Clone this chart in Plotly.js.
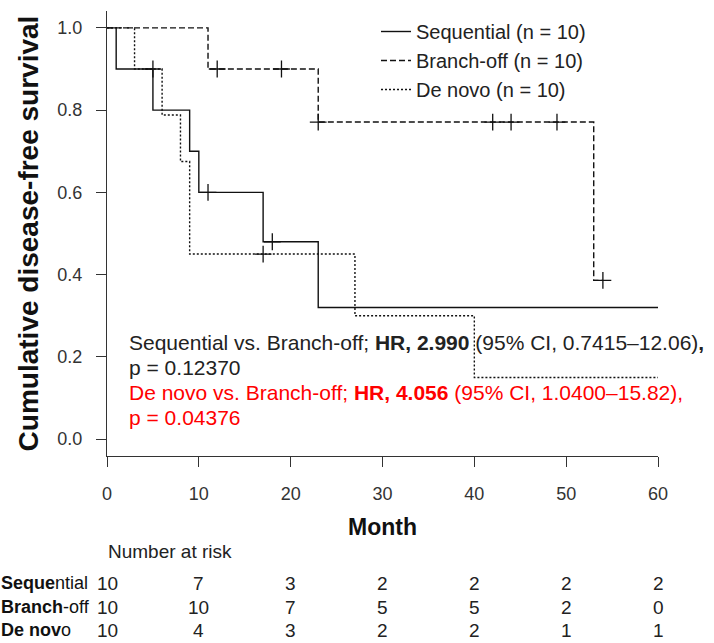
<!DOCTYPE html>
<html>
<head>
<meta charset="utf-8">
<script src="https://cdn.plot.ly/plotly-3.0.1.min.js"></script>
<style>html,body{margin:0;padding:0;background:#fff;}#chart{width:714px;height:643px;}</style>
</head>
<body>
<div id="chart"></div>
<script>
// ---- Kaplan-Meier step data ----
const seqTime = [0, 1, 5, 9, 10, 17, 23, 60];
const seqSurv = [1, 0.9, 0.8, 0.7, 0.6, 0.48, 0.32, 0.32];
const seqCensTime = [11, 18];
const seqCensSurv = [0.6, 0.48];

const boTime = [0, 11, 23, 53, 54];
const boSurv = [1, 0.9, 0.771, 0.386, 0.386];
const boCensTime = [12, 19, 23, 42, 44, 49, 54];
const boCensSurv = [0.9, 0.9, 0.771, 0.771, 0.771, 0.771, 0.386];

const dnTime = [0, 3, 6, 8, 9, 27, 40, 60];
const dnSurv = [1, 0.9, 0.788, 0.675, 0.45, 0.30, 0.15, 0.15];
const dnCensTime = [5, 17];
const dnCensSurv = [0.9, 0.45];

const seriesNames = ["Sequential (n = 10)", "Branch-off (n = 10)", "De novo (n = 10)"];

// ---- Number at risk table ----
const riskTimes = [0, 10, 20, 30, 40, 50, 60];
const riskLabels = ["<b>Seque</b>ntial", "<b>Branch</b>-off", "<b>De nov</b>o"];
const riskSeq = [10, 7, 3, 2, 2, 2, 2];
const riskBo = [10, 10, 7, 5, 5, 2, 0];
const riskDn = [10, 4, 3, 2, 2, 1, 1];

const xTicks = [0, 10, 20, 30, 40, 50, 60];
const yTicks = [0, 0.2, 0.4, 0.6, 0.8, 1.0];
const yTickText = ["0.0", "0.2", "0.4", "0.6", "0.8", "1.0"];

// ---- layout helpers (pixel -> paper) ----
const L = 107, R = 658, T = 11, B = 456;
const W = 714, H = 643;
const pxX = p => (p - L) / (R - L);
const pxY = p => (B - p) / (B - T);

const FONT = "Liberation Sans, Arial, sans-serif";
const lw = 1.4;
const censMarker = {symbol: "cross-thin-open", size: 12, color: "#111", line: {color: "#111", width: 1.3}};

const traces = [
  {x: seqTime, y: seqSurv, mode: "lines", line: {shape: "hv", color: "#111", width: lw}, name: seriesNames[0]},
  {x: boTime, y: boSurv, mode: "lines", line: {shape: "hv", color: "#111", width: lw, dash: "6px,3px"}, name: seriesNames[1]},
  {x: dnTime, y: dnSurv, mode: "lines", line: {shape: "hv", color: "#111", width: lw, dash: "2px,2px"}, name: seriesNames[2]},
  {x: seqCensTime, y: seqCensSurv, mode: "markers", showlegend: false, marker: censMarker},
  {x: boCensTime, y: boCensSurv, mode: "markers", showlegend: false, marker: censMarker},
  {x: dnCensTime, y: dnCensSurv, mode: "markers", showlegend: false, marker: censMarker}
];

const annotations = [];
const annFont = {family: FONT, size: 21, color: "#222"};
const redFont = {family: FONT, size: 21, color: "#ff0000"};
const hrLines = [
  {t: "Sequential vs. Branch-off; <b>HR, 2.990</b> (95% CI, 0.7415–12.06)<b>,</b>", py: 342, f: annFont},
  {t: "p = 0.12370", py: 367, f: annFont},
  {t: "De novo vs. Branch-off; <b>HR, 4.056</b> (95% CI, 1.0400–15.82),", py: 392, f: redFont},
  {t: "p = 0.04376", py: 417, f: redFont}
];
hrLines.forEach(l => annotations.push({
  text: l.t, xref: "paper", yref: "paper", x: pxX(127), y: pxY(l.py),
  xanchor: "left", yanchor: "middle", showarrow: false, font: l.f
}));

annotations.push({text: "Number at risk", xref: "paper", yref: "paper", x: pxX(106), y: pxY(551),
  xanchor: "left", yanchor: "middle", showarrow: false, font: {family: FONT, size: 19, color: "#222"}});

const riskRows = [riskSeq, riskBo, riskDn];
const rowY = [583, 607, 630];
riskRows.forEach((row, i) => {
  annotations.push({text: riskLabels[i], xref: "paper", yref: "paper", x: pxX(-1), y: pxY(rowY[i]),
    xanchor: "left", yanchor: "middle", showarrow: false, font: {family: FONT, size: 18, color: "#111"}});
  row.forEach((v, j) => annotations.push({
    text: String(v), xref: "x", yref: "paper", x: riskTimes[j], y: pxY(rowY[i]),
    xanchor: "center", yanchor: "middle", showarrow: false, font: {family: FONT, size: 19, color: "#222"}
  }));
});

const layout = {
  width: W, height: H,
  margin: {l: L, r: W - R, t: T, b: H - B, pad: 0},
  paper_bgcolor: "#fff", plot_bgcolor: "#fff",
  font: {family: FONT, color: "#222"},
  showlegend: true,
  legend: {x: pxX(376), y: pxY(12), xanchor: "left", yanchor: "top", bgcolor: "rgba(0,0,0,0)",
    font: {family: FONT, size: 20, color: "#222"}, itemwidth: 30, tracegroupgap: 0},
  xaxis: {
    range: [0, 60], tickvals: xTicks, ticktext: xTicks.map(String),
    showgrid: false, zeroline: false, showline: true, linecolor: "#333", linewidth: 1,
    ticks: "outside", ticklen: 10, tickcolor: "#333", tickwidth: 1,
    tickfont: {family: FONT, size: 18, color: "#333"}, ticklabelstandoff: 11,
    title: {text: "<b>Month</b>", font: {family: FONT, size: 23, color: "#111"}, standoff: 16},
    automargin: false, fixedrange: true
  },
  yaxis: {
    range: [-0.041, 1.041], tickvals: yTicks, ticktext: yTickText,
    showgrid: false, zeroline: false, showline: true, linecolor: "#333", linewidth: 1,
    ticks: "outside", ticklen: 10, tickcolor: "#333", tickwidth: 1,
    tickfont: {family: FONT, size: 18, color: "#333"}, ticklabelstandoff: 10,
    title: {text: "<b>Cumulative disease-free survival</b>", font: {family: FONT, size: 28, color: "#111"}, standoff: 10},
    automargin: false, fixedrange: true
  },
  annotations: annotations
};

Plotly.newPlot("chart", traces, layout, {displayModeBar: false, staticPlot: true});
</script>
</body>
</html>
